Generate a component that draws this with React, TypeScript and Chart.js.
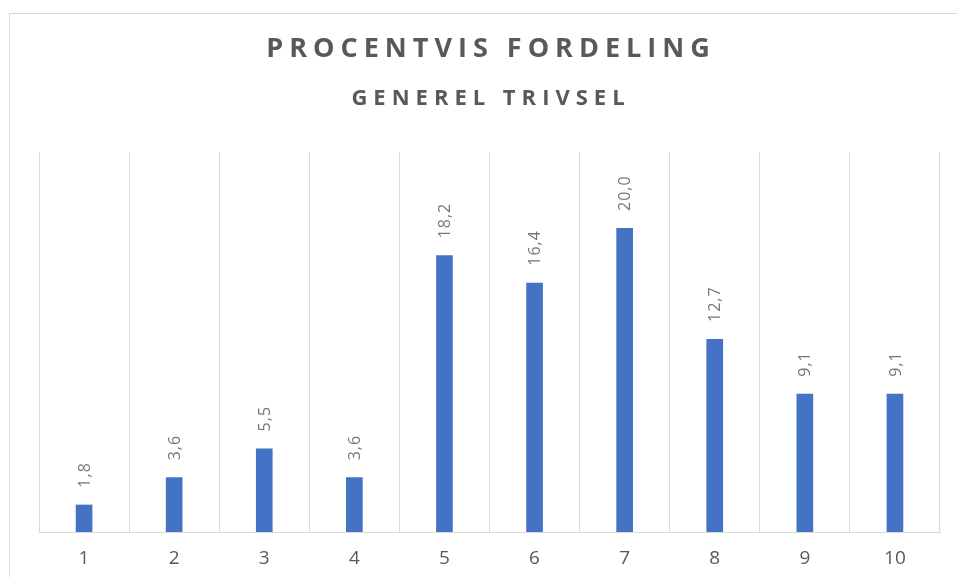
import React, { useEffect, useRef } from "react";
import { Chart, registerables } from "chart.js";

Chart.register(...registerables);

const categories = ["1", "2", "3", "4", "5", "6", "7", "8", "9", "10"];
const values = [1.8, 3.6, 5.5, 3.6, 18.2, 16.4, 20.0, 12.7, 9.1, 9.1];
const titleText = "PROCENTVIS FORDELING";
const subtitleText = "GENEREL TRIVSEL";
const yMax = 25;

function drawSpaced(ctx: CanvasRenderingContext2D, text: string, cx: number, cy: number, spacing: number) {
  (ctx as any).letterSpacing = spacing + "px";
  const w = ctx.measureText(text).width;
  ctx.textAlign = "left";
  ctx.textBaseline = "middle";
  ctx.fillText(text, cx - (w - spacing) / 2, cy);
  (ctx as any).letterSpacing = "0px";
}

const decorPlugin = {
  id: "decor",
  beforeDraw(chart: any) {
    const ctx = chart.ctx as CanvasRenderingContext2D;
    ctx.save();
    ctx.fillStyle = "#ffffff";
    ctx.fillRect(0, 0, chart.width, chart.height);
    ctx.strokeStyle = "#d9d9d9";
    ctx.lineWidth = 1;
    ctx.beginPath();
    ctx.moveTo(9.5, chart.height + 5);
    ctx.lineTo(9.5, 13.5);
    ctx.lineTo(chart.width + 5, 13.5);
    ctx.stroke();
    ctx.restore();
  },
  afterDraw(chart: any) {
    const ctx = chart.ctx as CanvasRenderingContext2D;
    ctx.save();
    ctx.fillStyle = "#595959";
    ctx.font = "bold 27px 'Open Sans'";
    drawSpaced(ctx, titleText, 488, 49, 6);
    ctx.font = "bold 22px 'Open Sans'";
    drawSpaced(ctx, subtitleText, 488, 99, 6);

    const meta = chart.getDatasetMeta(0);
    ctx.fillStyle = "#767676";
    ctx.font = "16px 'Open Sans'";
    meta.data.forEach((bar: any, i: number) => {
      const label = values[i].toFixed(1).replace(".", ",");
      ctx.save();
      ctx.translate(bar.x + 1, bar.y - 17);
      ctx.rotate(-Math.PI / 2);
      (ctx as any).letterSpacing = "1px";
      ctx.textAlign = "left";
      ctx.textBaseline = "middle";
      ctx.fillText(label, 0, 0);
      ctx.restore();
    });
    ctx.restore();
  },
};

export default function App() {
  const ref = useRef<HTMLCanvasElement | null>(null);
  useEffect(() => {
    if (!ref.current) return;
    let chart: Chart | null = null;
    let cancelled = false;
    const build = () => {
      if (cancelled || !ref.current) return;
      chart = new Chart(ref.current, {
        type: "bar",
        data: {
          labels: categories,
          datasets: [
            {
              data: values,
              backgroundColor: "#4472C4",
              categoryPercentage: 1,
              barPercentage: 0.185,
            },
          ],
        },
        options: {
          animation: false,
          responsive: false,
          layout: { padding: { left: 39, right: 17, top: 152, bottom: 0 } },
          plugins: {
            legend: { display: false },
            title: { display: false },
            tooltip: { enabled: false },
          },
          scales: {
            x: {
              grid: { color: "#d9d9d9", drawTicks: false, offset: true },
              border: { color: "#d9d9d9" },
              ticks: {
                color: "#595959",
                font: { family: "'Open Sans'", size: 19 },
                padding: 15,
              },
              afterFit(scale: any) {
                scale.height = 45;
              },
            },
            y: {
              display: false,
              min: 0,
              max: yMax,
            },
          },
        },
        plugins: [decorPlugin],
      });
    };
    const fonts = (document as any).fonts;
    if (fonts && fonts.load) {
      Promise.all([
        fonts.load("bold 27px 'Open Sans'"),
        fonts.load("16px 'Open Sans'"),
      ]).then(build, build);
    } else {
      build();
    }
    return () => {
      cancelled = true;
      if (chart) chart.destroy();
    };
  }, []);
  return (
    <div style={{ position: "absolute", left: 0, top: 0, width: 957, height: 577, background: "#fff" }}>
      <canvas ref={ref} width={957} height={577} style={{ display: "block" }} />
    </div>
  );
}
